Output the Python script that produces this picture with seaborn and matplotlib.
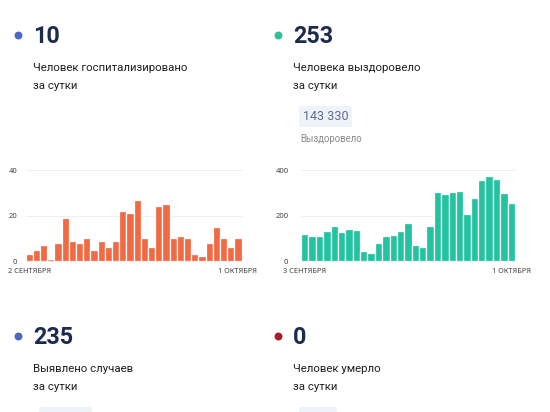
import matplotlib
matplotlib.use("Agg")
import matplotlib.pyplot as plt
from matplotlib.patches import FancyBboxPatch
import seaborn as sns
import pandas as pd

# hospitalised per day, 2 Sep - 1 Oct
hosp_values = [3, 5, 7, 1, 8, 19, 9, 8, 10, 5, 9, 6, 9, 22, 21, 27, 10, 6,
               24, 25, 10, 11, 10, 3, 2, 8, 15, 10, 6, 10]
hosp_labels = ["2 СЕНТЯБРЯ", "1 ОКТЯБРЯ"]
hosp_yticks = [0, 20, 40]

# recovered per day, 3 Sep - 1 Oct
recov_values = [120, 110, 108, 130, 155, 128, 142, 135, 42, 35, 78, 112, 113,
                133, 168, 72, 62, 152, 305, 295, 302, 308, 205, 278, 355, 372,
                360, 300, 253]
recov_labels = ["3 СЕНТЯБРЯ", "1 ОКТЯБРЯ"]
recov_yticks = [0, 200, 400]

headline_values = ["10", "253", "235", "0"]
headline_texts = [["Человек госпитализировано", "за сутки"],
                  ["Человека выздоровело", "за сутки"],
                  ["Выявлено случаев", "за сутки"],
                  ["Человек умерло", "за сутки"]]
totals = ["", "143 330", "", ""]
total_captions = ["", "Выздоровело", "", ""]
# the totals of the lower blocks are cut off by the bottom edge: only boxes
cut_boxes = [False, False, True, True]

sns.set_theme(style="white")
plt.rcParams['font.family'] = ['Roboto', 'DejaVu Sans']

W, H = 550, 412
fig = plt.figure(figsize=(W / 100, H / 100), dpi=100)
fig.patch.set_facecolor("white")


def px_axes(x0, y0, x1, y1):
    # pixel box (top-left origin) -> figure axes
    return fig.add_axes([x0 / W, 1 - y1 / H, (x1 - x0) / W, (y1 - y0) / H])


# overlay for the text blocks
ov = fig.add_axes([0, 0, 1, 1])
ov.set_xlim(0, W)
ov.set_ylim(H, 0)
ov.axis("off")

navy = "#1c2b4d"
dot_colors = ["#4a68c4", "#2fbf9b", "#4a68c4", "#a51d26"]
blocks = [(33, 36), (293, 36), (33, 337), (293, 337)]
for i, (bx, by) in enumerate(blocks):
    ov.scatter([bx - 15], [by - 1], s=22, color=dot_colors[i], zorder=3)
    ov.text(bx, by, headline_values[i], fontsize=16.8, fontweight="bold",
            color=navy, va="center", ha="left")
    ov.text(bx, by + 32, headline_texts[i][0], fontsize=8.2, color="#1e1e1e",
            va="center", ha="left")
    ov.text(bx, by + 50, headline_texts[i][1], fontsize=8.2, color="#1e1e1e",
            va="center", ha="left")
    if totals[i]:
        top = by + 70
        box = FancyBboxPatch((bx + 6, top), 53, 21,
                             boxstyle="round,pad=0,rounding_size=2",
                             facecolor="#eef3fa", edgecolor="none", zorder=1)
        ov.add_patch(box)
        ov.text(bx + 10, top + 10.5, totals[i], fontsize=9, color="#5d6d8e",
                va="center", ha="left", zorder=2)
    if total_captions[i]:
        ov.text(bx + 7, by + 103, total_captions[i], fontsize=6.9,
                color="#8a8a8a", va="center", ha="left")
    if cut_boxes[i]:
        width = 53 if i == 2 else 38
        box = FancyBboxPatch((bx + 6, by + 70), width, 21,
                             boxstyle="round,pad=0,rounding_size=2",
                             facecolor="#eef3fa", edgecolor="none", zorder=1)
        ov.add_patch(box)


def bar_chart(ax, values, color, labels, yticks, ypad):
    df = pd.DataFrame({"day": range(len(values)), "value": values})
    sns.barplot(data=df, x="day", y="value", color=color, width=1.0,
                edgecolor="white", linewidth=0.9, saturation=1, ax=ax)
    ax.set_xlim(-0.5, len(values) - 0.5)
    ax.set_ylim(0, yticks[-1])
    ax.set_yticks(yticks)
    ax.set_yticklabels([str(t) for t in yticks], fontsize=5.5, color="#444",
                       family=["Noto Sans", "DejaVu Sans"])
    ax.set_xticks([0, len(values) - 1])
    ax.set_xticklabels(labels, fontsize=5.3, color="#444",
                       family=["Noto Sans", "DejaVu Sans"])
    ax.tick_params(axis="both", length=0)
    ax.tick_params(axis="y", pad=ypad)
    ax.tick_params(axis="x", pad=5)
    ax.set_xlabel("")
    ax.set_ylabel("")
    for t in yticks:
        ax.axhline(t, color="#ececec", linewidth=0.6, zorder=0, clip_on=False)
    for s in ax.spines.values():
        s.set_visible(False)
    ax.set_facecolor("none")


ax1 = px_axes(25.5, 170, 241.5, 261)
bar_chart(ax1, hosp_values, "#f26a43", hosp_labels, hosp_yticks, 6)

ax2 = px_axes(301, 170, 515, 261)
bar_chart(ax2, recov_values, "#22c4a0", recov_labels, recov_yticks, 9)

fig.savefig("out.png", dpi=100, facecolor="white")
